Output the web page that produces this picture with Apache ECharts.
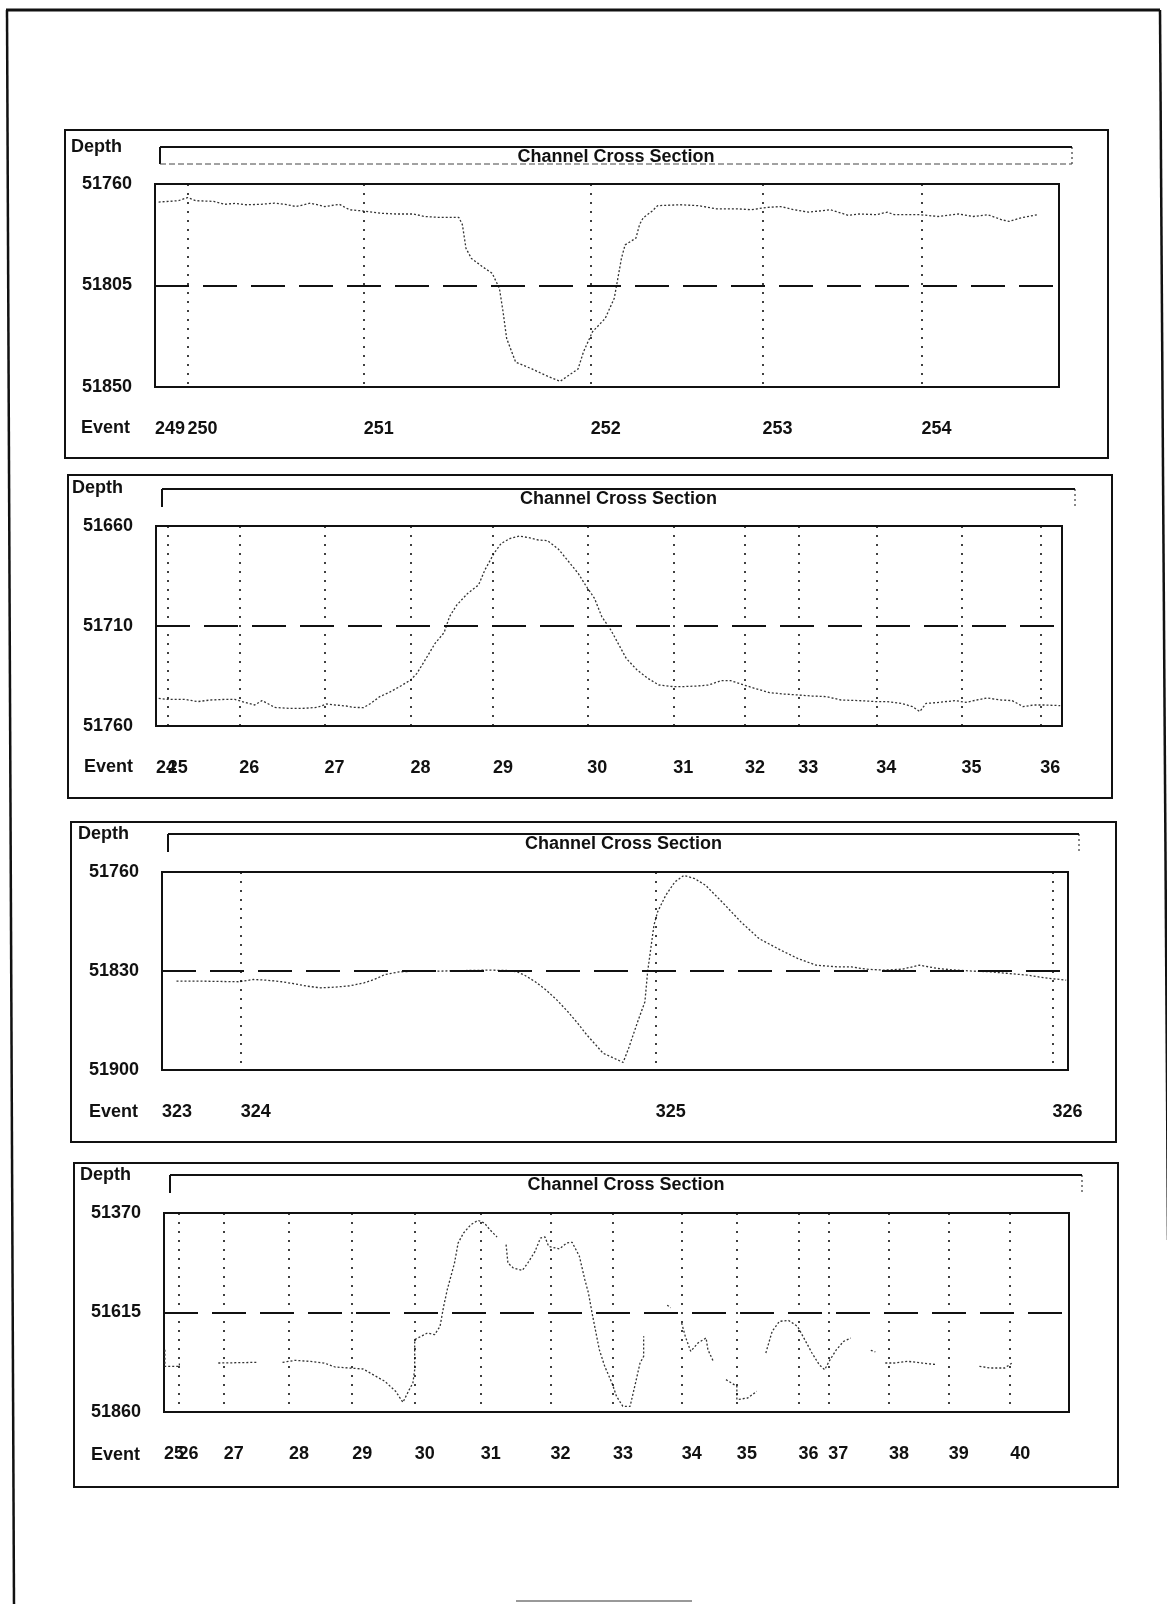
<!DOCTYPE html>
<html lang="en">
<head>
<meta charset="UTF-8">
<style>
html, body { margin: 0; background: #fff; }
</style>
</head>
<body>
<div id="chart" style="width:1167px;height:1604px;"></div>
<script src="https://cdn.jsdelivr.net/npm/echarts@6.0.0/dist/echarts.min.js"></script>
<script>
// depth ticks: top, middle (dashed line), bottom
var p1Ticks = [51760, 51805, 51850];
var p2Ticks = [51660, 51710, 51760];
var p3Ticks = [51760, 51830, 51900];
var p4Ticks = [51370, 51615, 51860];

// events along the traverse (position in % of section width)
var p1Events = ['249', '250', '251', '252', '253', '254'];
var p1EventPos = [0, 3.6, 23.1, 48.2, 67.2, 84.8];
var p2Events = ['24', '25', '26', '27', '28', '29', '30', '31', '32', '33', '34', '35', '36'];
var p2EventPos = [0, 1.3, 9.2, 18.6, 28.1, 37.2, 47.6, 57.1, 65.0, 70.9, 79.5, 88.9, 97.6];
var p3Events = ['323', '324', '325', '326'];
var p3EventPos = [0, 8.7, 54.5, 98.3];
var p4Events = ['25', '26', '27', '28', '29', '30', '31', '32', '33', '34', '35', '36', '37', '38', '39', '40'];
var p4EventPos = [0, 1.6, 6.6, 13.8, 20.8, 27.7, 35.0, 42.7, 49.6, 57.2, 63.3, 70.1, 73.4, 80.1, 86.7, 93.5];

// channel bottom profiles [position %, depth]
var p1Profile = [[0.4,51768],[2.6,51767.4],[3.6,51766],[4.5,51767.4],[6.5,51767.7],[7.7,51769],[8.9,51768.6],[10.1,51769.2],
  [11.7,51769],[13.2,51768.5],[14.4,51769],[15.6,51770],[17.2,51768.5],[18.8,51770],[20.4,51769],[21.5,51771.4],[23.1,51772],
  [25.1,51773],[26.7,51773.3],[28.6,51773.3],[29.8,51774.4],[31.4,51774.8],[33.6,51774.8],[34.0,51778],[34.4,51788.5],
  [35.0,51793],[36.2,51796.6],[37.3,51799.6],[38.1,51806.3],[38.5,51816.6],[38.9,51828.5],[39.9,51839],[41.7,51842],
  [43.3,51845],[44.8,51847.5],[46.8,51842],[47.4,51834.4],[48.4,51825.5],[49.8,51819.6],[50.8,51810.7],[51.4,51797.4],
  [51.6,51792.9],[52.0,51787],[53.2,51784],[53.6,51778],[54.0,51775],[55.0,51772],[55.6,51769.6],[58.1,51769.2],[60.1,51769.6],
  [62.1,51771],[64.4,51771],[66.0,51771.4],[67.6,51770.4],[69.2,51770],[70.7,51771.4],[72.3,51772.5],[74.7,51771.4],
  [76.7,51773.9],[77.9,51773.3],[79.8,51773.6],[81.0,51772.5],[81.8,51773.6],[84.6,51773.6],[86.6,51774.4],[88.9,51773.3],
  [90.5,51774.4],[92.1,51773.6],[93.7,51775.9],[94.5,51776.6],[95.7,51775.1],[97.6,51773.6]];

var p2Profile = [[0.3,51746.2],[1.3,51746.7],[3.2,51746.7],[4.6,51747.8],[6.0,51747],[7.6,51746.7],[8.7,51746.7],[9.9,51748.3],
  [10.9,51749.5],[11.7,51747.3],[12.3,51748.7],[13.1,51750.7],[14.7,51751.2],[16.2,51751.2],[17.8,51750.7],[18.8,51749],
  [19.8,51749.5],[21.0,51750],[21.8,51750.7],[22.9,51750.8],[23.7,51748.7],[24.7,51745.3],[25.7,51743.3],[26.9,51740.3],
  [28.1,51737],[28.8,51733.7],[29.6,51727.8],[30.8,51718.7],[31.8,51713.3],[32.4,51705.3],[33.2,51699.5],[34.4,51693.7],
  [35.6,51689.5],[36.3,51682],[37.3,51673.7],[38.1,51668.7],[39.1,51666.2],[40.1,51665],[41.1,51665.8],[42.2,51667],
  [43.2,51667.3],[44.4,51671.5],[45.4,51677],[46.6,51683.7],[47.4,51689.5],[48.4,51696.2],[49.2,51705.3],[50.2,51712],
  [51.2,51720.3],[51.9,51726.2],[53.1,51732],[54.3,51736.2],[55.5,51739.5],[57.1,51740.3],[58.2,51740.3],[59.8,51740],
  [61.0,51739.5],[62.4,51737.3],[63.4,51737.3],[64.9,51739.5],[66.1,51741.2],[67.7,51743.3],[69.3,51744],[70.9,51744.5],
  [72.4,51745],[74.0,51745.3],[75.6,51747],[77.6,51747.3],[79.5,51747.8],[80.7,51747.8],[82.3,51748.7],[83.5,51750.3],
  [84.3,51752.8],[85.0,51748.7],[86.2,51748.3],[88.2,51747.3],[89.4,51748.2],[90.6,51747],[91.7,51746],[93.3,51747],
  [94.5,51747.3],[95.7,51750.3],[96.9,51749.5],[98.0,51749.5],[99.8,51749.8]];

var p3Profile = [[1.6,51837.2],[4.5,51837.2],[8.5,51837.6],[10.1,51836],[11.6,51836.5],[13.2,51837.6],[14.4,51838.8],
  [16.0,51840.7],[17.5,51841.9],[19.1,51841.4],[20.7,51840.5],[22.3,51838.4],[23.5,51835.8],[24.6,51832.5],[26.2,51830.6],
  [28.2,51830.1],[30.2,51830.1],[32.1,51829.9],[34.1,51829.6],[36.1,51829.4],[38.0,51829.6],[39.2,51830.6],[40.0,51832.9],
  [41.2,51837.6],[42.4,51843.5],[43.6,51850.6],[44.8,51858.8],[45.9,51867.1],[46.9,51875.3],[47.9,51882.4],[48.7,51888.2],
  [50.3,51892.9],[50.9,51894.6],[51.5,51884.7],[52.5,51865.9],[53.3,51851.8],[53.6,51830.6],[53.9,51816.5],[54.3,51797.6],
  [54.7,51788.2],[55.6,51776.5],[56.6,51767.1],[57.6,51762.4],[58.8,51764.7],[60.0,51769.4],[62.0,51782.4],[63.9,51795.3],
  [65.9,51807.1],[68.3,51815.3],[70.2,51821.2],[72.2,51825.9],[74.6,51827.1],[76.1,51827.1],[77.7,51828.7],[79.7,51829.4],
  [81.7,51828.7],[83.6,51825.9],[85.6,51828.2],[87.6,51829.4],[89.6,51830.1],[91.5,51830.6],[93.5,51831.8],[95.5,51832.9],
  [97.4,51834.8],[99.8,51836.5]];

// last section has drop-outs: one list per recorded piece
var p4Pieces = [
  [[0.1,51706.5],[0.1,51747.6],[1.7,51747.6],[1.7,51739.4]],
  [[6.0,51739.4],[10.4,51737.7]],
  [[13.1,51737.7],[14.5,51732.8],[16.1,51735.3],[17.7,51739.4],[18.9,51749.2],[22.0,51754.1],[24.4,51784.5],[25.6,51809.1],
   [26.4,51836.2],[27.1,51805],[27.5,51788.6],[27.7,51755.8],[27.7,51681.9],[27.9,51677.8],[29.1,51665.5],[29.9,51669.6],
   [30.5,51649.1],[30.9,51599.8],[31.3,51558.8],[31.7,51526],[32.1,51493.1],[32.5,51443.9],[33.1,51419.2],[33.9,51398.7],
   [34.7,51388.1],[35.4,51394.6],[36.0,51411],[36.8,51429.1]],
  [[37.8,51448],[38.0,51493.1],[38.6,51505.4],[39.6,51511.2],[40.2,51493.1],[41.0,51464.4],[41.6,51431.6],[42.1,51429.1],
   [42.5,51452.1],[43.7,51458.6],[44.5,51443.9],[45.1,51442.2],[45.9,51476.7],[46.5,51534.2],[46.9,51567],[47.3,51616.2],
   [47.7,51661.4],[48.1,51706.5],[48.7,51747.6],[49.5,51788.6],[50.0,51821.4],[50.7,51846.1],[51.5,51846.1],[52.1,51788.6],
   [52.6,51739.4],[53.0,51722.9],[53.0,51673.7]],
  [[55.6,51597],[56.0,51603]],
  [[57.2,51640.9],[57.6,51673.7],[58.2,51710.6],[59.0,51690.1],[59.9,51677.8],[60.1,51706.5],[60.7,51735.3]],
  [[62.1,51780.4],[63.3,51796.8],[63.3,51829.6],[64.5,51825.5],[65.5,51809.1]],
  [[66.5,51714.7],[67.2,51661.4],[68.0,51636.8],[69.0,51634.3],[70.0,51649.1],[70.8,51681.9],[71.6,51714.7],[72.4,51743.5],
   [73.0,51755.8],[73.6,51731.2],[74.3,51706.5],[75.1,51686],[75.9,51677.8]],
  [[78.1,51708],[78.6,51712]],
  [[79.7,51739.4],[80.7,51739.4],[82.2,51735.3],[83.8,51739.4],[85.4,51743.5]],
  [[90.1,51747.6],[91.3,51751.7],[92.9,51751.7],[93.7,51739.4]]
];

var titleText = 'Channel Cross Section';

var FONT = '"Liberation Sans", Arial, sans-serif';
var INK = '#111';

// page layout of the four frames
var panels = [
  {ticks: p1Ticks, events: p1Events, pos: p1EventPos, data: [p1Profile],
   grid: [155, 184, 904, 203], box: [65, 130, 1043, 328], bar: [160, 147, 1072, 164], full: true, depth: [71, 147], event: [81, 428]},
  {ticks: p2Ticks, events: p2Events, pos: p2EventPos, data: [p2Profile],
   grid: [156, 526, 906, 200], box: [68, 475, 1044, 323], bar: [162, 489, 1075, 507], depth: [72, 488], event: [84, 767]},
  {ticks: p3Ticks, events: p3Events, pos: p3EventPos, data: [p3Profile],
   grid: [162, 872, 906, 198], box: [71, 822, 1045, 320], bar: [168, 834, 1079, 852], depth: [78, 834], event: [89, 1112]},
  {ticks: p4Ticks, events: p4Events, pos: p4EventPos, data: p4Pieces,
   grid: [164, 1213, 905, 199], box: [74, 1163, 1044, 324], bar: [170, 1175, 1082, 1193], depth: [80, 1175], event: [91, 1455]}
];

var grids = [], xAxes = [], yAxes = [], series = [], graphics = [];

function txt(s, x, y, align) {
    return {type: 'text', style: {text: s, x: x, y: y, font: 'bold 18px ' + FONT, fill: INK,
        textAlign: align || 'left', textVerticalAlign: 'middle'}};
}
function ln(x1, y1, x2, y2, w, dash, color) {
    return {type: 'line', shape: {x1: x1, y1: y1, x2: x2, y2: y2},
        style: {stroke: color || INK, lineWidth: w, lineDash: dash || null}};
}
// bottom event axis; the first event sits on its own axis so that
// overlapping labels (e.g. "249250", "2526") are both kept
function eventAxis(i, pos, names) {
    return {
        type: 'value', gridIndex: i, min: 0, max: 100, position: 'bottom', offset: 0,
        axisLine: {show: false}, axisTick: {show: false}, splitLine: {show: false},
        axisLabel: {
            customValues: pos, align: 'left', margin: 33,
            hideOverlap: false, showMinLabel: true, showMaxLabel: true,
            fontFamily: FONT, fontWeight: 'bold', fontSize: 18, color: INK,
            formatter: function (v) {
                var best = 0;
                for (var k = 0; k < pos.length; k++)
                    if (Math.abs(pos[k] - v) < Math.abs(pos[best] - v)) best = k;
                return names[best];
            }
        }
    };
}

panels.forEach(function (p, i) {
    grids.push({left: p.grid[0], top: p.grid[1], width: p.grid[2], height: p.grid[3],
        show: true, borderColor: INK, borderWidth: 2, backgroundColor: 'transparent'});
    xAxes.push(eventAxis(i, p.pos.slice(1), p.events.slice(1)));
    xAxes.push(eventAxis(i, p.pos.slice(0, 1), p.events.slice(0, 1)));
    yAxes.push({
        type: 'value', gridIndex: i, inverse: true, min: p.ticks[0], max: p.ticks[2],
        axisLine: {show: false}, axisTick: {show: false}, splitLine: {show: false},
        axisLabel: {customValues: p.ticks, margin: 23, hideOverlap: false,
            fontFamily: FONT, fontWeight: 'bold', fontSize: 18, color: INK,
            formatter: function (v) { return String(v); }}
    });

    // event lines (dotted) and the mid-depth reference (long dash)
    var marks = p.pos.filter(function (x) { return x > 0; }).map(function (x) {
        return {xAxis: x, lineStyle: {type: [2, 7], width: 1.6, color: INK}};
    });
    marks.push({yAxis: p.ticks[1], lineStyle: {type: [34, 14], width: 2.2, color: INK}});

    p.data.forEach(function (piece, j) {
        var s = {
            type: 'line', xAxisIndex: 2 * i, yAxisIndex: i, data: piece,
            showSymbol: false, smooth: false, silent: true, animation: false,
            lineStyle: {color: '#333', width: 1.3, type: [2, 2]}
        };
        if (j === 0) s.markLine = {symbol: ['none', 'none'], silent: true, animation: false,
            label: {show: false}, data: marks};
        series.push(s);
    });

    // frame, title bar and captions
    graphics.push({type: 'rect', shape: {x: p.box[0], y: p.box[1], width: p.box[2], height: p.box[3]},
        style: {fill: 'none', stroke: INK, lineWidth: 2}});
    var b = p.bar;
    graphics.push(ln(b[0], b[1], b[2], b[1], 2));
    graphics.push(ln(b[0], b[1], b[0], b[3], 2));
    graphics.push(ln(b[2], b[1], b[2], b[3], 1, [2, 3]));
    if (p.full) graphics.push(ln(b[0], b[3], b[2], b[3], 1, [6, 3], '#444'));
    graphics.push(txt(titleText, (b[0] + b[2]) / 2, b[1] + 10, 'center'));
    graphics.push(txt('Depth', p.depth[0], p.depth[1]));
    graphics.push(txt('Event', p.event[0], p.event[1]));
});

// scanned page edges
graphics.push(ln(6, 10, 1160, 10, 3));
graphics.push(ln(7, 10, 14, 1604, 2.5));
graphics.push(ln(1160, 10, 1168, 1240, 2.5));
graphics.push(ln(516, 1601, 692, 1601, 2, null, '#999'));

var myChart = echarts.init(document.getElementById('chart'));
myChart.setOption({
    animation: false,
    backgroundColor: '#fff',
    grid: grids,
    xAxis: xAxes,
    yAxis: yAxes,
    series: series,
    graphic: graphics
});
</script>
</body>
</html>
